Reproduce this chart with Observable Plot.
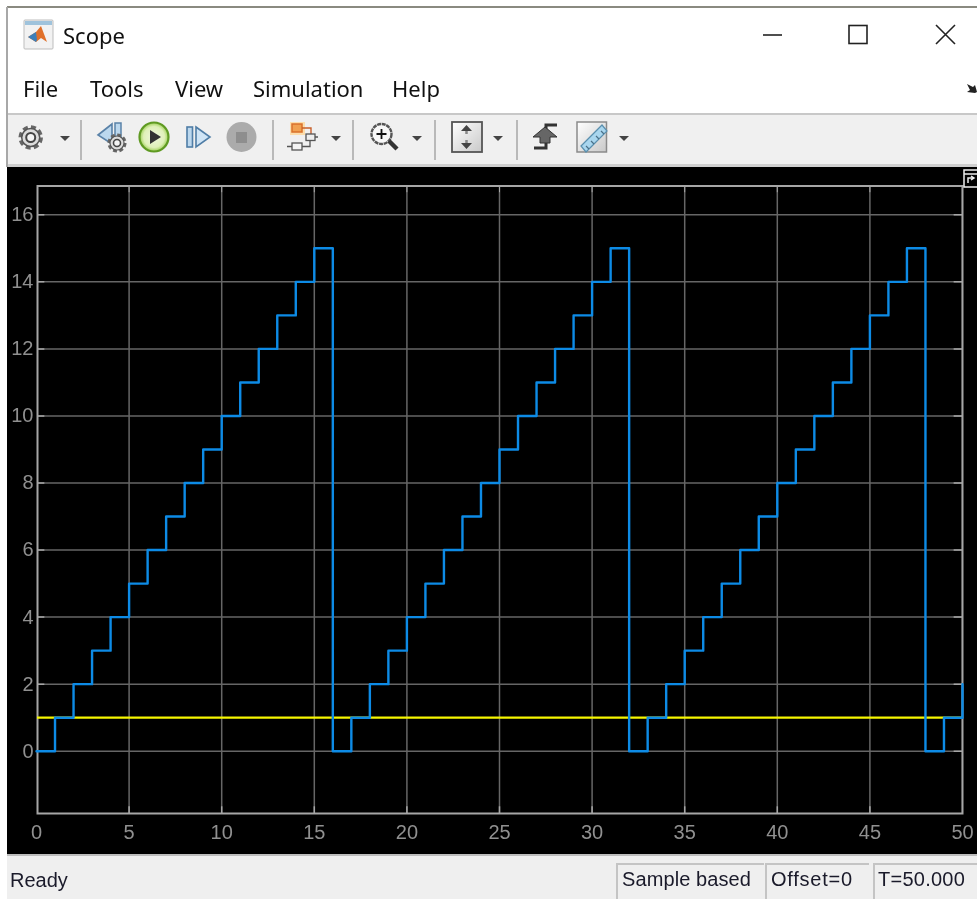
<!DOCTYPE html>
<html>
<head>
<meta charset="utf-8">
<title>Scope</title>
<script src="https://cdn.jsdelivr.net/npm/d3@7"></script>
<script src="https://cdn.jsdelivr.net/npm/@observablehq/plot@0.6"></script>
<style>
html,body{margin:0;padding:0;background:#fff;overflow:hidden}
body{width:977px;height:899px;position:relative;font-family:"Noto Sans",sans-serif;color:#111}
#top{position:absolute;left:0;top:0;width:977px;height:167px;background:#fff;filter:blur(.45px)}
#chrome{position:absolute;left:0;top:0}
.t{position:absolute;white-space:nowrap;line-height:1}
.menu{font-size:22px;top:77px}
#chart{position:absolute;left:7px;top:167px;width:970px;height:688px;background:#000;filter:blur(.45px)}
#chart svg{display:block}
#bottom{position:absolute;left:7px;top:854px;width:970px;height:45px;background:#efefef;border-top:2px solid #bdbdbd;box-sizing:border-box;filter:blur(.4px)}
.st{position:absolute;top:7px;height:36px;box-sizing:border-box;border-left:2px solid #c4c4c4;border-top:2px solid #c4c4c4;font:20px "Liberation Sans",sans-serif;line-height:29px;white-space:nowrap;color:#1a1a2a}
</style>
</head>
<body>
<div id="top">
<svg id="chrome" width="977" height="167" viewBox="0 0 977 167" aria-hidden="true">
  <defs>
    <linearGradient id="fade" x1="0" y1="0" x2="1" y2="1"><stop offset="0" stop-color="#fff"/><stop offset="1" stop-color="#c9c9c9"/></linearGradient>
    <radialGradient id="green"><stop offset="0" stop-color="#f0f8e0"/><stop offset=".72" stop-color="#dff0b8"/><stop offset="1" stop-color="#9ccf55"/></radialGradient>
    <g id="gear"><circle r="10.500" fill="none" stroke="#666" stroke-width="3.500" stroke-dasharray="5 3.240"/><circle r="9" fill="#dcdcdc" stroke="#555" stroke-width="1.500"/><circle r="4.500" fill="#f4f4f4" stroke="#444" stroke-width="2"/></g>
  </defs>
  <rect x="7" y="6" width="970" height="2" fill="#8a8a80"/>
  <rect x="6" y="7" width="2" height="160" fill="#a8a8a8"/>
  <rect x="8" y="113" width="969" height="2" fill="#c8c8c8"/>
  <rect x="8" y="115" width="969" height="49" fill="#f0f0f0"/>
  <rect x="8" y="164" width="969" height="3" fill="#cfcfcf"/>
  <!-- app icon -->
  <rect x="24" y="20" width="29" height="29" rx="1" fill="#f2f2f2" stroke="#bdbdbd"/>
  <rect x="25" y="21" width="27" height="4" fill="#9fc3dc"/>
  <path d="M28 37 L36 32 L41 26 L47 42 L41 38 L36 42 Z" fill="#e0702a"/>
  <path d="M28 37 L36 32 L37 40 L36 42 Z" fill="#3d7fb8"/>
  <!-- window buttons -->
  <path d="M763 35H782" stroke="#222" stroke-width="1.600"/>
  <rect x="849" y="25.500" width="18" height="18" fill="none" stroke="#222" stroke-width="1.600"/>
  <path d="M936 25L955 44M955 25L936 44" stroke="#222" stroke-width="1.600"/>
  <path d="M967 84l6 3 2-2 2 7-2 1-8-1 3-2z" fill="#222"/>
  <!-- separators -->
  <g fill="#b9b9b9"><rect x="80" y="120" width="2" height="40"/><rect x="272" y="120" width="2" height="40"/><rect x="352" y="120" width="2" height="40"/><rect x="434" y="120" width="2" height="40"/><rect x="516" y="120" width="2" height="40"/></g>
  <!-- dropdown arrows -->
  <g fill="#444"><path d="M60 136h10l-5 5z"/><path d="M331 136h10l-5 5z"/><path d="M412 136h10l-5 5z"/><path d="M493 136h10l-5 5z"/><path d="M619 136h10l-5 5z"/></g>
  <!-- gear -->
  <use href="#gear" x="30.700" y="137.500"/>
  <!-- step back -->
  <path d="M98 135L112 124V144Z" fill="#bcd8ee" stroke="#5a82a8" stroke-width="1.600"/>
  <rect x="115" y="123" width="6" height="14" fill="#bcd8ee" stroke="#5a82a8" stroke-width="1.500"/>
  <g transform="translate(117 143) scale(.78)"><use href="#gear"/></g>
  <!-- play -->
  <circle cx="154" cy="137" r="14.500" fill="url(#green)" stroke="#5f9a22" stroke-width="2.200"/>
  <path d="M150 130L161 137L150 144Z" fill="#333"/>
  <!-- step forward -->
  <rect x="187" y="127" width="5.500" height="20" fill="#bcd8ee" stroke="#4f7da6" stroke-width="1.600"/>
  <path d="M196 127L210 137L196 147Z" fill="#cfe4f5" stroke="#4f7da6" stroke-width="1.600"/>
  <!-- stop -->
  <circle cx="241.500" cy="137" r="15" fill="#ababab"/>
  <rect x="236" y="132" width="11" height="11" fill="#8e8e8e"/>
  <!-- block -->
  <rect x="290" y="122" width="15" height="13" fill="#ffd89a" opacity=".8"/>
  <rect x="292" y="124" width="10" height="8" fill="#f0a050" stroke="#d9702b" stroke-width="1.500"/>
  <path d="M302 128H311V134" stroke="#c8602b" fill="none" stroke-width="1.400"/>
  <rect x="306" y="134" width="9" height="6.500" fill="#eee" stroke="#555" stroke-width="1.300"/>
  <rect x="292" y="143" width="10" height="7" fill="#f4f4f4" stroke="#555" stroke-width="1.300"/>
  <path d="M287 146.500H292M302 146.500H310V140.500M315 137H318" stroke="#555" fill="none" stroke-width="1.300"/>
  <!-- zoom -->
  <circle cx="381.500" cy="134" r="10" fill="#f8f8f8" stroke="#555" stroke-width="2.400" stroke-dasharray="4 .7"/>
  <path d="M376.500 134H386.500M381.500 129V139" stroke="#111" stroke-width="1.800"/>
  <path d="M389 141L397 149" stroke="#333" stroke-width="4.500"/>
  <!-- fit -->
  <rect x="452" y="122" width="30" height="30" fill="url(#fade)" stroke="#555" stroke-width="1.800"/>
  <path d="M461 131l5.500-6 5.500 6zM461 143l5.500 6 5.500-6z" fill="#444"/>
  <path d="M466.500 131v3M466.500 140v3" stroke="#888" stroke-width="2.500"/>
  <!-- cursor step -->
  <path d="M557 125H546V148H534" fill="none" stroke="#333" stroke-width="3"/>
  <path d="M545 127L557 137H550V143H540V137H533Z" fill="#666" stroke="#333" stroke-width="1"/>
  <!-- ruler -->
  <rect x="577" y="122" width="29.500" height="30" fill="url(#fade)" stroke="#8a8a8a" stroke-width="1.500"/>
  <path d="M581 146L602 125L607 131L586 152Z" fill="#a9d6ee" stroke="#5a8fae" stroke-width="1.200"/>
  <path d="M586 146l3 3M591 141l3 3M596 136l3 3M601 131l3 3" stroke="#4a7088" stroke-width="1.200"/>
</svg>
<span class="t" style="left:63px;top:24px;font-size:22px">Scope</span>
<span class="t menu" style="left:23px">File</span>
<span class="t menu" style="left:90px">Tools</span>
<span class="t menu" style="left:175px">View</span>
<span class="t menu" style="left:253px">Simulation</span>
<span class="t menu" style="left:392px">Help</span>
</div>
<div id="chart"></div>
<div id="bottom">
  <span class="t" style="left:3px;top:13px;font:20px 'Liberation Sans',sans-serif;color:#1a1a2a">Ready</span>
  <div class="st" style="left:609px;width:148px;padding-left:4px;letter-spacing:.1px">Sample based</div>
  <div class="st" style="left:758px;width:104px;padding-left:4px;letter-spacing:.75px">Offset=0</div>
  <div class="st" style="left:866px;width:104px;padding-left:3px;letter-spacing:.25px">T=50.000</div>
</div>
<script>
const time = [0,1,2,3,4,5,6,7,8,9,10,11,12,13,14,15,16,17,18,19,20,21,22,23,24,25,26,27,28,29,30,31,32,33,34,35,36,37,38,39,40,41,42,43,44,45,46,47,48,49,50];
const counter = [0,1,2,3,4,5,6,7,8,9,10,11,12,13,14,15,0,1,2,3,4,5,6,7,8,9,10,11,12,13,14,15,0,1,2,3,4,5,6,7,8,9,10,11,12,13,14,15,0,1,2];
const constantLevel = [1,1];
const constantTime = [0,50];
const xTicks = [0,5,10,15,20,25,30,35,40,45,50];
const yTicks = [0,2,4,6,8,10,12,14,16];
const xDomain = [0,50];
const yDomain = [-1.858,16.859];

const blueSeries = time.map((t,i)=>({t,v:counter[i]}));
const yellowSeries = constantTime.map((t,i)=>({t,v:constantLevel[i]}));
const innerX = xTicks.slice(1,-1);

const gridColor = "#666666", frameColor = "#a6a6a6", labelColor = "#909090";

const chart = Plot.plot({
  width: 970,
  height: 688,
  marginLeft: 30,
  marginRight: 15,
  marginTop: 18.5,
  marginBottom: 42,
  style: {background:"#000", fontFamily:"'Liberation Sans',sans-serif", fontSize:"20px", overflow:"visible"},
  x: {domain:xDomain, range:[29,955]},
  y: {domain:yDomain},
  marks: [
    Plot.ruleX(xTicks,{stroke:gridColor,strokeWidth:1.5,clip:true}),
    Plot.ruleY(yTicks,{stroke:gridColor,strokeWidth:1.5,clip:true}),
    Plot.ruleX(innerX,{y1:yDomain[0],y2:yDomain[0]+0.2,stroke:frameColor,strokeWidth:1.5}),
    Plot.ruleX(innerX,{y1:yDomain[1],y2:yDomain[1]-0.2,stroke:frameColor,strokeWidth:1}),
    Plot.ruleY(yTicks,{x1:xDomain[0],x2:xDomain[0]+0.45,stroke:frameColor,strokeWidth:1.5,clip:true}),
    Plot.ruleY(yTicks,{x1:xDomain[1],x2:xDomain[1]-0.45,stroke:frameColor,strokeWidth:1.5,clip:true}),
    Plot.axisX({ticks:xTicks,tickSize:0,tickPadding:11,color:labelColor,fontSize:20,label:null,tickFormat:d=>String(d)}),
    Plot.axisY({ticks:yTicks,tickSize:0,tickPadding:4,color:labelColor,fontSize:20,label:null,tickFormat:d=>String(d)}),
    Plot.frame({stroke:frameColor,strokeWidth:2}),
    Plot.lineY(yellowSeries,{x:"t",y:"v",stroke:"#f6f600",strokeWidth:2.2,clip:true}),
    Plot.lineY(blueSeries,{x:"t",y:"v",curve:"step-after",stroke:"#0d8be6",strokeWidth:2.4})
  ]
});
document.getElementById("chart").appendChild(chart);
</script>
<svg width="15" height="19" style="position:absolute;left:963px;top:169px" aria-hidden="true"><rect x="1" y="1" width="14" height="17" fill="#000" stroke="#eee" stroke-width="1.500"/><path d="M1 5H15" stroke="#eee" stroke-width="1.500"/><path d="M5 14V9H10M8 7L11 9L8 11" fill="none" stroke="#eee" stroke-width="1.500"/></svg>
</body>
</html>
